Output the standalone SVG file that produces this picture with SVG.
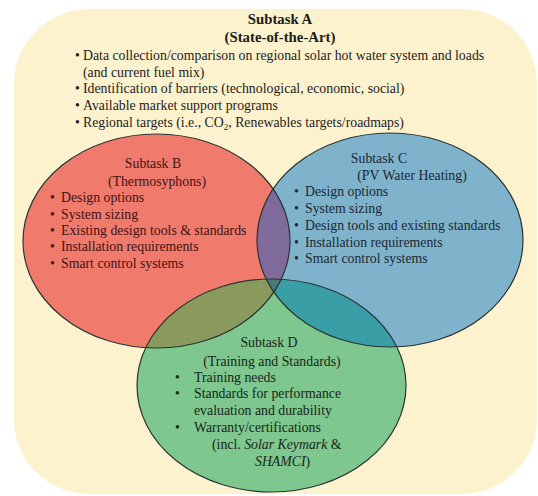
<svg xmlns="http://www.w3.org/2000/svg" width="538" height="496" viewBox="0 0 538 496">
<defs>
<style>
text{font-family:"Liberation Serif","Times New Roman",serif;font-size:13.8px;fill:#1c1c1c}
.t{font-weight:bold;font-size:14.8px}
.c{text-anchor:middle}
.b{fill:#3f1414}
.cc{fill:#1b2833}
.d{fill:#17261a}
.o{fill:none;stroke:#2a3535;stroke-width:1.2}
</style>
<clipPath id="clipB"><ellipse cx="156.5" cy="241" rx="133.5" ry="107"/></clipPath>
<clipPath id="clipC"><ellipse cx="390" cy="240" rx="133" ry="107"/></clipPath>
</defs>
<rect x="0" y="0" width="538" height="496" fill="#ffffff"/>
<g id="subtaskA">
<rect x="14" y="9" width="523" height="485" rx="75" ry="75" fill="#FDF2CE"/>
<text class="t c" x="280" y="24">Subtask A</text>
<text class="t c" x="280" y="42">(State-of-the-Art)</text>
<text x="75" y="60">•</text><text x="83" y="60">Data collection/comparison  on regional solar hot water system and loads</text>
<text x="83" y="77">(and current fuel mix)</text>
<text x="75" y="93">•</text><text x="83" y="93">Identification of barriers (technological,  economic, social)</text>
<text x="75" y="110">•</text><text x="83" y="110">Available market support programs</text>
<text x="75" y="127">•</text><text x="83" y="127">Regional targets (i.e., CO<tspan font-size="9" dy="3">2</tspan><tspan dy="-3">, Renewables targets/roadmaps)</tspan></text>
</g>
<g id="shapes">
<ellipse id="ellB" cx="156.5" cy="241" rx="133.5" ry="107" fill="#F07A6C"/>
<ellipse id="ellC" cx="390" cy="240" rx="133" ry="107" fill="#7FB2CB"/>
<ellipse id="ellD" cx="271.5" cy="385.5" rx="134.5" ry="106.5" fill="#7EC78E"/>
<ellipse cx="390" cy="240" rx="133" ry="107" fill="#7E6B9B" clip-path="url(#clipB)"/>
<ellipse cx="271.5" cy="385.5" rx="134.5" ry="106.5" fill="#8A9A5C" clip-path="url(#clipB)"/>
<ellipse cx="271.5" cy="385.5" rx="134.5" ry="106.5" fill="#399EA5" clip-path="url(#clipC)"/>
<g clip-path="url(#clipC)"><ellipse cx="271.5" cy="385.5" rx="134.5" ry="106.5" fill="#4C7A78" clip-path="url(#clipB)"/></g>
<ellipse class="o" cx="156.5" cy="241" rx="133.5" ry="107"/>
<ellipse class="o" cx="390" cy="240" rx="133" ry="107"/>
<ellipse class="o" cx="271.5" cy="385.5" rx="134.5" ry="106.5"/>
</g>
<g id="subtaskB">
<text class="b c" x="153" y="168">Subtask B</text>
<text class="b c" x="157" y="186">(Thermosyphons)</text>
<text class="b" x="50" y="202">•</text><text class="b" x="61" y="202">Design options</text>
<text class="b" x="50" y="219">•</text><text class="b" x="61" y="219">System sizing</text>
<text class="b" x="50" y="235">•</text><text class="b" x="61" y="235">Existing  design tools &amp; standards</text>
<text class="b" x="50" y="251">•</text><text class="b" x="61" y="251">Installation requirements</text>
<text class="b" x="50" y="268">•</text><text class="b" x="61" y="268">Smart control systems</text>
</g>
<g id="subtaskC">
<text class="cc c" x="379" y="163">Subtask C</text>
<text class="cc c" x="412" y="180">(PV Water Heating)</text>
<text class="cc" x="294" y="196">•</text><text class="cc" x="305" y="196">Design options</text>
<text class="cc" x="294" y="213">•</text><text class="cc" x="305" y="213">System sizing</text>
<text class="cc" x="294" y="230">•</text><text class="cc" x="305" y="230">Design tools and existing  standards</text>
<text class="cc" x="294" y="247">•</text><text class="cc" x="305" y="247">Installation requirements</text>
<text class="cc" x="294" y="263">•</text><text class="cc" x="305" y="263">Smart control systems</text>
</g>
<g id="subtaskD">
<text class="d c" x="269" y="347">Subtask D</text>
<text class="d c" x="272" y="366">(Training and Standards)</text>
<text class="d" x="175" y="382">•</text><text class="d" x="194" y="382">Training needs</text>
<text class="d" x="175" y="398">•</text><text class="d" x="194" y="398">Standards for performance</text>
<text class="d" x="194" y="415">evaluation and durability</text>
<text class="d" x="175" y="432">•</text><text class="d" x="194" y="432">Warranty/certifications</text>
<text class="d" x="212" y="449">(incl. <tspan font-style="italic">Solar Keymark</tspan> &amp;</text>
<text class="d" x="255" y="466"><tspan font-style="italic">SHAMCI</tspan>)</text>
</g>
</svg>
